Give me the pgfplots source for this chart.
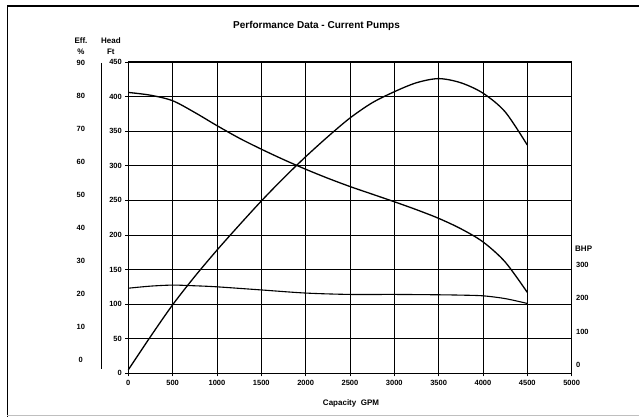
\documentclass[border=0pt]{standalone}
\usepackage{pgfplots}
\pgfplotsset{compat=1.18}
\usepackage{fontspec}
\setmainfont{Liberation Sans}
\begin{document}
\begin{tikzpicture}[x=1pt,y=1pt]
\useasboundingbox (0,0) rectangle (639,417);
% frame
\draw[line width=1.6pt] (7.3,0) -- (7.3,411) -- (639,411);
\draw[line width=0.8pt, black!25] (7.3,2) -- (639,2);
% left decorative line
\draw[line width=0.9pt] (101.7,354) -- (101.7,48);
\begin{axis}[
  at={(128.3pt,43.7pt)}, anchor=south west, scale only axis,
  width=443.3pt, height=311.3pt,
  xmin=0, xmax=5000, ymin=0, ymax=450,
  xtick={0,500,...,5000}, ytick={0,50,...,450},
  grid=major,
  major grid style={black, line width=0.7pt},
  axis line style={black, line width=1.1pt},
  tick align=outside, major tick length=3pt,
  tick style={black, line width=0.8pt},
  xtick pos=bottom, ytick pos=left,
  /pgf/number format/assume math mode=true,
  /pgf/number format/set thousands separator={},
  tick label style={font=\fontsize{7.5}{8}\selectfont\bfseries},
  clip=false,
]
\addplot[black, line width=1.3pt, smooth] coordinates {
 (0,406) (250,402) (500,394) (750,377) (1000,358) (1250,340) (1500,324)
 (1750,309) (2000,295) (2250,282) (2500,270) (2750,259) (3000,248)
 (3250,236.5) (3500,224) (3750,209) (4000,190) (4250,161) (4500,117)};
\addplot[black, line width=1.3pt, smooth] coordinates {
 (0,5) (250,53) (500,99) (750,140) (1000,178) (1250,214) (1500,249)
 (1750,282) (2000,313) (2250,342) (2500,369) (2750,391) (3000,407)
 (3250,420) (3500,426) (3750,420) (4000,405) (4250,378) (4500,330)};
\addplot[black, line width=1.1pt, smooth] coordinates {
 (0,123) (250,126) (500,127.5) (750,126.5) (1000,125) (1500,120.5) (2000,116) (2500,114)
 (3000,114) (3500,113.5) (3750,113) (4000,112) (4250,108) (4500,101)};
\end{axis}
% Efficiency scale
\begin{axis}[
  at={(128.3pt,43.7pt)}, anchor=south west, scale only axis,
  width=443.3pt, height=311.3pt,
  xmin=0, xmax=5000, ymin=-4.0, ymax=90.3,
  hide x axis, axis y line*=left,
  y axis line style={draw=none}, ytick style={draw=none},
  ytick={0,10,...,90},
  /pgf/number format/assume math mode=true,
  yticklabel style={anchor=center, xshift=-47.5pt, font=\fontsize{7.5}{8}\selectfont\bfseries},
]
\end{axis}
% BHP scale
\begin{axis}[
  at={(128.3pt,43.7pt)}, anchor=south west, scale only axis,
  width=443.3pt, height=311.3pt,
  xmin=0, xmax=5000, ymin=-25, ymax=909,
  hide x axis, axis y line*=right,
  y axis line style={draw=none}, ytick style={draw=none},
  ytick={0,100,200,300},
  /pgf/number format/assume math mode=true,
  yticklabel style={anchor=west, xshift=1pt, font=\fontsize{7.5}{8}\selectfont\bfseries},
]
\end{axis}
\node[font=\fontsize{10}{12}\selectfont\bfseries] at (316.5,391.3) {Performance Data - Current Pumps};
\node[font=\fontsize{8}{9}\selectfont\bfseries] at (81,376) {Eff.};
\node[font=\fontsize{8}{9}\selectfont\bfseries] at (81,365) {\%};
\node[font=\fontsize{8}{9}\selectfont\bfseries] at (111,376) {Head};
\node[font=\fontsize{8}{9}\selectfont\bfseries] at (110.8,365) {Ft};
\node[font=\fontsize{8}{9}\selectfont\bfseries, anchor=west, inner sep=0pt] at (575,168) {BHP};
\node[font=\fontsize{8}{9}\selectfont\bfseries] at (351,14) {Capacity\ \ GPM};
\end{tikzpicture}
\end{document}
